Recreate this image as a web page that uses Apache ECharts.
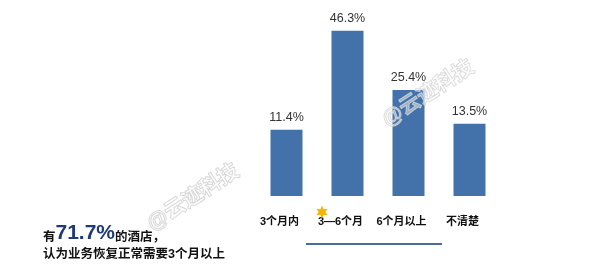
<!DOCTYPE html>
<html><head><meta charset="utf-8">
<script src="https://cdn.jsdelivr.net/npm/echarts@6/dist/echarts.min.js"></script>
<style>html,body{margin:0;padding:0;background:#fff}#c{width:600px;height:277px}</style>
</head><body><div id="c"></div>
<script>
const categories = ['3个月内', '3—6个月', '6个月以上', '不清楚'];
const values = [11.4, 46.3, 25.4, 13.5];
const yMin = -12, yMax = 48;
const FONT = "Arial, 'Liberation Sans', 'Noto Sans CJK SC', sans-serif";

function starPoints(cx, cy, ro, ri, n) {
  const pts = [];
  for (let i = 0; i < n * 2; i++) {
    const r = i % 2 ? ri : ro;
    const a = -Math.PI / 2 + i * Math.PI / n;
    pts.push([cx + r * Math.cos(a), cy + r * Math.sin(a)]);
  }
  return pts;
}

const chart = echarts.init(document.getElementById('c'));
chart.setOption({
  animation: false,
  backgroundColor: '#fff',
  grid: { left: 256, right: 100, top: 26, bottom: 81 },
  xAxis: {
    type: 'category', data: categories,
    axisLine: { show: false }, axisTick: { show: false },
    axisLabel: { interval: 0, margin: 20, fontSize: 11, fontWeight: 'bold', color: '#111', fontFamily: FONT, padding: [0, 14, 0, 0] }
  },
  yAxis: { type: 'value', min: yMin, max: yMax, show: false, splitLine: { show: false } },
  series: [{
    type: 'custom',
    data: values.map((v, i) => [i, v]),
    encode: { x: 0, y: 1 },
    renderItem: function (params, api) {
      const i = api.value(0), v = api.value(1);
      const top = api.coord([i, v]);
      const bot = api.coord([i, yMin]);
      const w = 32;
      return {
        type: 'group',
        children: [
          { type: 'rect', shape: { x: top[0] - w / 2, y: top[1], width: w, height: bot[1] - top[1] },
            style: { fill: '#4372aa' } },
          { type: 'text', x: top[0], y: top[1] - 6,
            style: { text: v.toFixed(1) + '%', fill: '#333', font: '12.5px ' + FONT, textAlign: 'center', textVerticalAlign: 'bottom' } }
        ]
      };
    }
  }],
  graphic: [
    { type: 'text', left: 143, top: 160, rotation: Math.PI / 5.5, z: 10,
      style: { text: '@云迹科技', font: 'bold 21px ' + FONT, fill: 'rgba(255,255,255,0.4)', stroke: '#cfcfcf', lineWidth: 1 } },
    { type: 'text', left: 378, top: 56, rotation: Math.PI / 5.5, z: 10,
      style: { text: '@云迹科技', font: 'bold 21px ' + FONT, fill: 'rgba(255,255,255,0.45)', stroke: 'rgba(200,200,200,0.8)', lineWidth: 1 } },
    { type: 'polygon', shape: { points: starPoints(322, 212, 6.5, 3.3, 6) }, style: { fill: '#f4b400' }, z: 11 },
    { type: 'line', shape: { x1: 306, y1: 244, x2: 442, y2: 244 }, style: { stroke: '#4a6c9e', lineWidth: 2 } },
    { type: 'text', left: 43, top: 223,
      style: { text: '{a|有}{b|71.7%}{a|的酒店，}',
        rich: {
          a: { font: 'bold 12.5px ' + FONT, fill: '#111', verticalAlign: 'bottom' },
          b: { font: 'bold 21px ' + FONT, fill: '#1f3a78', verticalAlign: 'bottom' }
        } } },
    { type: 'text', left: 43, top: 248,
      style: { text: '认为业务恢复正常需要3个月以上', font: 'bold 12.5px ' + FONT, fill: '#111' } }
  ]
});
</script></body></html>
